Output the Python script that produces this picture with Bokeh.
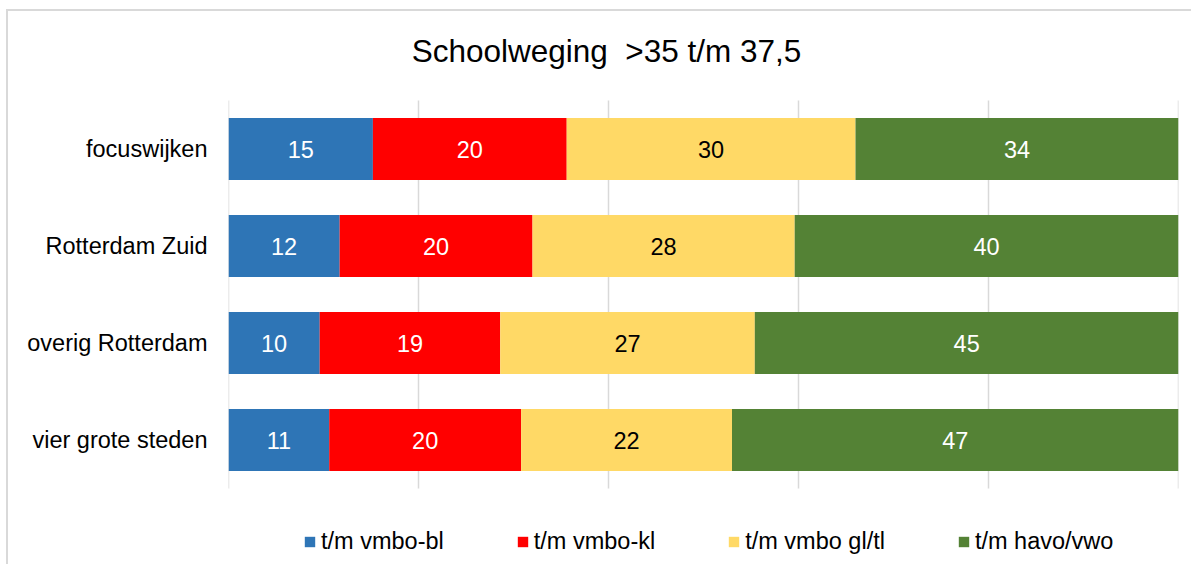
from bokeh.plotting import figure
from bokeh.models import (ColumnDataSource, FixedTicker, Legend,
                          LegendItem, Label, Range1d)
from bokeh.core.properties import value
from bokeh.embed import file_html
from bokeh.resources import INLINE

FONT = "Liberation Sans"

categories = ["focuswijken", "Rotterdam Zuid", "overig Rotterdam", "vier grote steden"]
series_names = ["t/m vmbo-bl", "t/m vmbo-kl", "t/m vmbo gl/tl", "t/m havo/vwo"]
vmbo_bl = [15.2, 11.7, 9.6, 10.6]
vmbo_kl = [20.4, 20.3, 19.0, 20.2]
vmbo_gltl = [30.4, 27.6, 26.8, 22.2]
havo_vwo = [34.0, 40.4, 44.6, 47.0]
colors = ["#2E75B6", "#FF0000", "#FFD966", "#548235"]
label_colors = ["white", "white", "black", "white"]
x_ticks = [0, 20, 40, 60, 80, 100]
title_text = "Schoolweging  >35 t/m 37,5"

# layout constants (page pixels)
OFF_X, OFF_Y = 8, 11
W, H = 1185, 555
FRAME_L, FRAME_R = 228, 1178
BARS_TOP, BARS_BOT = 100, 488

n = len(categories)
ppu = (BARS_BOT - BARS_TOP) / n
page_bottom = OFF_Y + H
y_start = -(page_bottom - BARS_BOT) / ppu
y_end = n + (BARS_TOP - OFF_Y) / ppu

ypos = [n - i - 0.5 for i in range(n)]
keys = ["bl", "kl", "gltl", "havo"]
series = [vmbo_bl, vmbo_kl, vmbo_gltl, havo_vwo]
data = {"y": ypos}
for k, s in zip(keys, series):
    data[k] = s
source = ColumnDataSource(data)

p = figure(width=W, height=H, output_backend="svg", toolbar_location=None,
           x_range=Range1d(0, 100), y_range=Range1d(y_start, y_end),
           min_border_left=FRAME_L - OFF_X,
           min_border_right=OFF_X + W - FRAME_R,
           min_border_top=0, min_border_bottom=0)
p.styles = {"margin-left": f"{OFF_X}px", "margin-top": f"{OFF_Y}px",
            "box-shadow": "-2px -2px 0 0 #d9d9d9"}
p.background_fill_color = "white"
p.border_fill_color = "white"
p.outline_line_color = None
p.xgrid.grid_line_color = None
p.ygrid.grid_line_color = None

# vertical gridlines over the category band
p.segment(x0=x_ticks, x1=x_ticks, y0=[0] * len(x_ticks), y1=[n] * len(x_ticks),
          line_color="#d9d9d9", line_width=1.5)

renderers = p.hbar_stack(keys, y="y", height=0.64, color=colors, source=source,
                         line_color=None)

# bar labels
lx, ly, lt, lc = [], [], [], []
for i in range(n):
    left = 0.0
    for j, s in enumerate(series):
        v = s[i]
        lx.append(left + v / 2)
        ly.append(ypos[i])
        lt.append(f"{v:.0f}")
        lc.append(label_colors[j])
        left += v
lsrc = ColumnDataSource(dict(x=lx, y=ly, t=lt, c=lc))
p.text(x="x", y="y", text="t", text_color="c", source=lsrc,
       text_font=value(FONT), text_font_size=value("23.5px"),
       text_align="center", text_baseline="middle")

p.xaxis.visible = False
p.yaxis.ticker = FixedTicker(ticks=ypos)
p.yaxis.major_label_overrides = {yp: c for yp, c in zip(ypos, categories)}
p.yaxis.axis_line_color = None
p.yaxis.major_tick_line_color = None
p.yaxis.minor_tick_line_color = None
p.yaxis.major_tick_out = 0
p.yaxis.major_tick_in = 0
p.yaxis.major_label_standoff = 21
p.yaxis.major_label_text_font = FONT
p.yaxis.major_label_text_font_size = "23.5px"
p.yaxis.major_label_text_color = "black"

# keep the double space visible (SVG collapses plain runs of spaces)
shown_title = title_text.replace("  ", "\u00a0 ")
title = Label(x=606 - FRAME_L, y=page_bottom - 50, x_units="screen", y_units="screen",
              text=shown_title, text_font=FONT, text_font_size="31.5px",
              text_color="black", text_align="center", text_baseline="middle")
p.add_layout(title)

items = [LegendItem(label=nm, renderers=[r]) for nm, r in zip(series_names, renderers)]
legend = Legend(items=items, orientation="horizontal",
                location=(303 - FRAME_L, page_bottom - 555),
                glyph_width=13, glyph_height=13, label_standoff=5, spacing=72,
                padding=0, margin=0, border_line_color=None,
                background_fill_alpha=0, label_text_font=FONT,
                label_text_font_size="23.5px", label_text_color="black")
p.add_layout(legend, "center")

open("out.html", "w").write(file_html(p, INLINE))
